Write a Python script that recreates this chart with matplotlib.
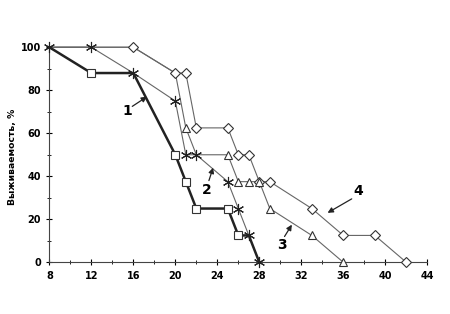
import matplotlib.pyplot as plt

# curve 1 (squares, thick)
x1 = [8, 12, 16, 20, 21, 22, 25, 26, 27, 28]
y1 = [100, 88, 88, 50, 37.5, 25, 25, 12.5, 12.5, 0]
# curve 2 (asterisks)
x2 = [8, 12, 16, 20, 21, 22, 25, 26, 27, 28]
y2 = [100, 100, 88, 75, 50, 50, 37.5, 25, 12.5, 0]
# curve 3 (triangles)
x3 = [8, 12, 16, 20, 21, 22, 25, 26, 27, 28, 29, 33, 36]
y3 = [100, 100, 100, 88, 62.5, 50, 50, 37.5, 37.5, 37.5, 25, 12.5, 0]
# curve 4 (diamonds)
x4 = [8, 12, 16, 20, 21, 22, 25, 26, 27, 28, 29, 33, 36, 39, 42]
y4 = [100, 100, 100, 88, 88, 62.5, 62.5, 50, 50, 37.5, 37.5, 25, 12.5, 12.5, 0]

xticks = [8, 12, 16, 20, 24, 28, 32, 36, 40, 44]
yticks = [0, 20, 40, 60, 80, 100]

plt.rcParams['font.family'] = ['DejaVu Sans']
fig = plt.figure(figsize=(4.5, 3.14), dpi=100)
ax = fig.add_axes([0.1096, 0.1646, 0.84, 0.685])

star = (6, 2, 0)
open_mk = dict(ls='none', mfc='white', mec='#333333', mew=0.8, clip_on=False)

ax.plot(x4, y4, color='#666666', lw=0.8, clip_on=False, zorder=2)
ax.plot(x3, y3, color='#666666', lw=0.8, clip_on=False, zorder=2)
ax.plot(x2, y2, color='#666666', lw=0.8, clip_on=False, zorder=2)
ax.plot(x1, y1, color='#222222', lw=1.8, clip_on=False, zorder=3)

ax.plot(x4[2:], y4[2:], marker='D', ms=5, zorder=4, **open_mk)
tri = [i for i in range(4, len(x3)) if i != 5]
ax.plot([x3[i] for i in tri], [y3[i] for i in tri], marker='^', ms=6, zorder=4, **open_mk)
sq = [1, 3, 4, 5, 6, 7]
ax.plot([x1[i] for i in sq], [y1[i] for i in sq], marker='s', ms=5.5, zorder=4, **open_mk)
ax.plot(x2, y2, ls='none', marker=star, ms=8, color='#222222',
        mew=0.8, clip_on=False, zorder=5)

arrow = dict(arrowstyle='-|>', color='#222222', lw=0.9, mutation_scale=8,
             shrinkA=0, shrinkB=0)
labels = ['1', '2', '3', '4']
label_xy = [(15.4, 70.5), (23.0, 33.5), (30.2, 8), (37.4, 33)]
tails = [(15.9, 72.5), (23.2, 38), (30.4, 12), (36.8, 29.5)]
tips = [(17.3, 77), (23.6, 44), (31.1, 17.5), (34.5, 23)]
for lab, pos, t0, t1 in zip(labels, label_xy, tails, tips):
    ax.text(pos[0], pos[1], lab, fontsize=10, fontweight='bold',
            ha='center', va='center')
    ax.annotate('', xy=t1, xytext=t0, arrowprops=arrow)

ax.set_xlim(8, 44)
ax.set_ylim(0, 100)
ax.set_xticks(xticks)
ax.set_yticks(yticks)
ax.set_xticks(range(8, 45, 2), minor=True)
ax.set_yticks(range(0, 101, 10), minor=True)
ax.tick_params(which='major', direction='inout', length=5, width=0.8, labelsize=7)
ax.tick_params(which='minor', direction='inout', length=3, width=0.6)
for lab in ax.get_xticklabels() + ax.get_yticklabels():
    lab.set_fontweight('bold')
ax.spines['top'].set_visible(False)
ax.spines['right'].set_visible(False)
ax.spines['left'].set_color('#444444')
ax.spines['bottom'].set_color('#444444')
ax.set_ylabel('Выживаемость, %', fontsize=6.7, fontweight='bold')
ax.yaxis.set_label_coords(-0.085, 0.49)

fig.savefig('out.png', dpi=100)
